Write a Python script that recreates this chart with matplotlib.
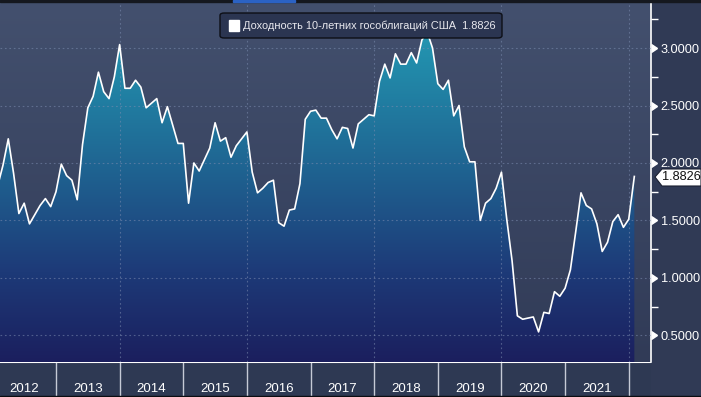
import numpy as np
import matplotlib.pyplot as plt
from matplotlib.colors import LinearSegmentedColormap
from matplotlib.patches import Polygon, Rectangle, FancyBboxPatch

plt.rcParams["font.family"] = ["Liberation Sans", "DejaVu Sans"]

# Month-end US 10Y treasury yield (%)
y2012 = [1.80, 1.98, 2.21, 1.91, 1.56, 1.65, 1.47, 1.55, 1.63, 1.69, 1.62, 1.75]
y2013 = [1.99, 1.89, 1.85, 1.68, 2.16, 2.48, 2.58, 2.79, 2.62, 2.56, 2.75, 3.03]
y2014 = [2.65, 2.65, 2.72, 2.66, 2.48, 2.52, 2.56, 2.35, 2.49, 2.33, 2.17, 2.17]
y2015 = [1.65, 2.00, 1.93, 2.03, 2.13, 2.35, 2.19, 2.22, 2.05, 2.15, 2.21, 2.27]
y2016 = [1.92, 1.74, 1.78, 1.83, 1.85, 1.48, 1.45, 1.59, 1.60, 1.82, 2.38, 2.45]
y2017 = [2.46, 2.39, 2.39, 2.29, 2.21, 2.31, 2.30, 2.13, 2.34, 2.38, 2.42, 2.41]
y2018 = [2.71, 2.86, 2.74, 2.95, 2.86, 2.86, 2.96, 2.87, 3.07, 3.14, 3.00, 2.69]
y2019 = [2.64, 2.72, 2.41, 2.50, 2.14, 2.01, 2.01, 1.50, 1.65, 1.69, 1.78, 1.92]
y2020 = [1.51, 1.15, 0.67, 0.64, 0.65, 0.66, 0.53, 0.70, 0.69, 0.88, 0.84, 0.91]
y2021 = [1.07, 1.40, 1.74, 1.63, 1.60, 1.47, 1.23, 1.31, 1.49, 1.55, 1.44, 1.51]
years = list(range(2012, 2022))
last_value = 1.8826
last_date = 2022.088

values = y2012 + y2013 + y2014 + y2015 + y2016 + y2017 + y2018 + y2019 + y2020 + y2021
dates = [yr + (m + 1) / 12 for yr in years for m in range(12)]
dates.append(last_date)
values.append(last_value)

W, H = 701, 397
fig = plt.figure(figsize=(W / 100, H / 100), dpi=100, facecolor="#303a55")

xmin, xmax = 2012.12, 2022.35
ymin, ymax = 0.268, 3.392
ax = fig.add_axes([0, 35 / H, 651 / W, 359 / H])
ax.set_xlim(xmin, xmax)
ax.set_ylim(ymin, ymax)
ax.set_facecolor("#303a55")

# background gradient
bg = LinearSegmentedColormap.from_list("bg", ["#313b57", "#43506e"])
ax.imshow(np.linspace(0, 1, 256).reshape(-1, 1), cmap=bg, origin="lower",
          extent=[xmin, xmax, ymin, ymax], aspect="auto", zorder=0)

# area fill with vertical gradient
fillmap = LinearSegmentedColormap.from_list("fill", [
    (0.0, "#1b1f5e"), (0.25, "#1d3a78"), (0.55, "#1f6592"),
    (0.85, "#228eac"), (1.0, "#2aa0b8")])
grad = ax.imshow(np.linspace(0, 1, 256).reshape(-1, 1), cmap=fillmap, origin="lower",
                 extent=[xmin, xmax, ymin, ymax], aspect="auto", zorder=1)
verts = list(zip(dates, values)) + [(dates[-1], ymin), (dates[0], ymin)]
poly = Polygon(verts, closed=True, facecolor="none", edgecolor="none")
ax.add_patch(poly)
grad.set_clip_path(poly)

ax.plot(dates, values, color="white", lw=1.2, zorder=4)

# grid
for v in [0.5, 1.0, 1.5, 2.0, 2.5, 3.0]:
    ax.axhline(v, color="#7d8db0", lw=0.8, ls=(0, (1.5, 2.5)), alpha=0.55, zorder=3)
for yr in [2014, 2016, 2018, 2020, 2022]:
    ax.axvline(yr, color="#7d8db0", lw=0.8, ls=(0, (1.5, 2.5)), alpha=0.55, zorder=3)

# right axis
for s in ["top", "left", "bottom"]:
    ax.spines[s].set_visible(False)
ax.spines["right"].set_color("white")
ax.spines["right"].set_linewidth(1.2)
ax.set_xticks([])
ax.yaxis.tick_right()
major = [0.5, 1.0, 1.5, 2.0, 2.5, 3.0]
ax.set_yticks(major)
ax.set_yticklabels([f"{v:.4f}" for v in major], color="white", fontsize=9.2)
ax.set_yticks([0.75, 1.25, 1.75, 2.25, 2.75, 3.25], minor=True)
ax.tick_params(axis="y", which="major", length=0, pad=7)
ax.tick_params(axis="y", which="minor", length=5, width=1, color="white")
ax.plot([xmax] * len(major), major, ls="none", marker=9, ms=6, color="white",
        clip_on=False, zorder=6)

# bottom year band
axb = fig.add_axes([0, 1.5 / H, 651 / W, 33.5 / H])
axb.set_xlim(xmin, xmax)
axb.set_ylim(0, 1)
axb.axis("off")
axb.add_patch(Rectangle((xmin, 0), xmax - xmin, 1, color="#2e3953", zorder=0))
axb.axhline(1, color="white", lw=1.5, zorder=3)
for yr in range(2013, 2023):
    axb.axvline(yr, color="#c5cad6", lw=1, zorder=2)
for yr in years:
    axb.text(yr + 0.5, 0.2, str(yr), color="white", fontsize=9.5,
             ha="center", va="center")

# top strip and bottom edge
fig.add_artist(Rectangle((0, 1 - 2 / H), 1, 2 / H, transform=fig.transFigure,
                         color="#15181f", zorder=10))
fig.add_artist(Rectangle((233 / W, 1 - 2 / H), 62 / W, 2 / H, transform=fig.transFigure,
                         color="#2b62c4", zorder=11))
fig.add_artist(Rectangle((0, 0), 1, 1.5 / H, transform=fig.transFigure,
                         color="#0b0d12", zorder=10))

# legend box
fig.add_artist(FancyBboxPatch((220 / W, 1 - 38 / H), 282 / W, 25 / H,
                              boxstyle="round,pad=0,rounding_size=0.006",
                              transform=fig.transFigure, facecolor="#2b3551",
                              edgecolor="#0d0f16", lw=1, zorder=12))
fig.add_artist(Rectangle((229 / W, 1 - 30.5 / H), 10 / W, 10 / H, transform=fig.transFigure,
                         color="white", zorder=13))
fig.text(243 / W, 1 - 25.5 / H, f"Доходность 10-летних гособлигаций США  {last_value:.4f}",
         color="#e8e8ee", fontsize=7.9, va="center", ha="left", zorder=13)

# last value tag
tag = [(655, 177), (662, 169), (701, 169), (701, 186), (662, 186)]
fig.add_artist(Polygon([(x / W, 1 - y / H) for x, y in tag], closed=True,
                       transform=fig.transFigure, facecolor="white",
                       edgecolor="#1a1f30", lw=0.8, zorder=12))
fig.text(662 / W, 1 - 177.5 / H, f"{last_value:.4f}", color="#111111",
         fontsize=9.2, va="center", ha="left", zorder=13)

fig.savefig("out.png", dpi=100, facecolor=fig.get_facecolor())
